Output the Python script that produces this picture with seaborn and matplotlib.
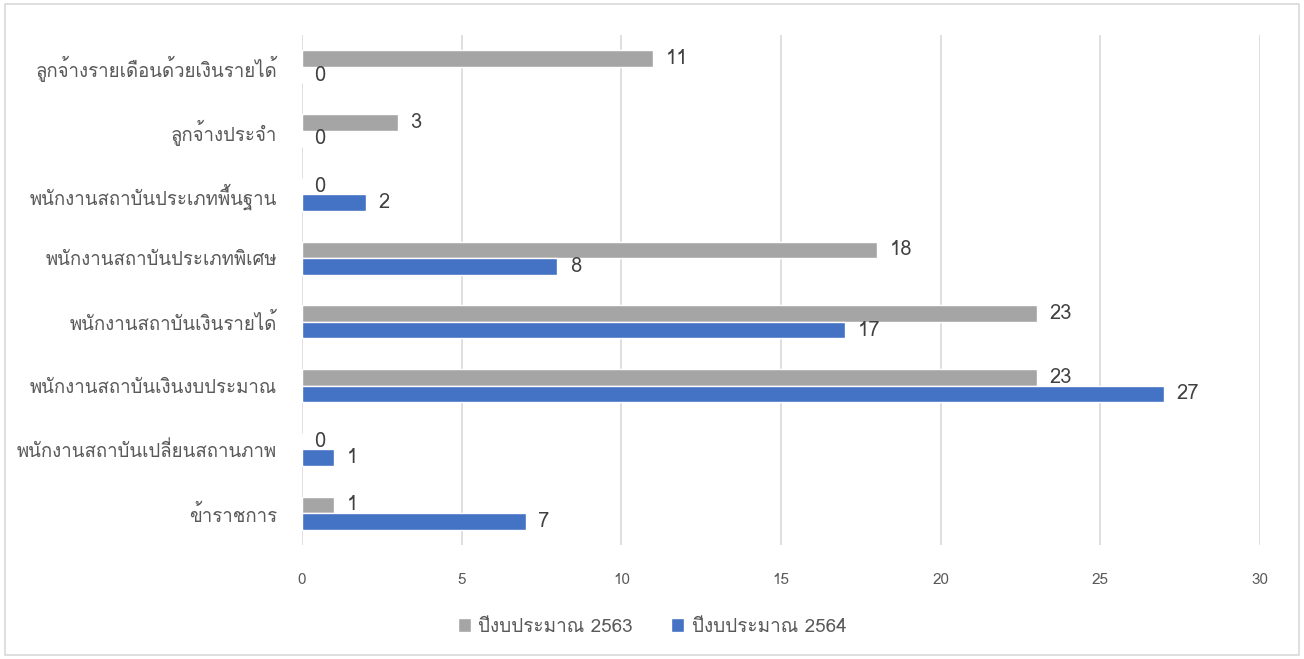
"""Staff count by type, budget years 2563 vs 2564 (horizontal grouped bars)"""

import matplotlib
matplotlib.use('Agg')
import matplotlib.pyplot as plt
import seaborn as sns
import pandas as pd
from matplotlib import font_manager
from matplotlib.ft2font import FT2Font
from matplotlib.patches import Rectangle

categories = [
    'ลูกจ้างรายเดือนด้วยเงินรายได้',
    'ลูกจ้างประจำ',
    'พนักงานสถาบันประเภทพื้นฐาน',
    'พนักงานสถาบันประเภทพิเศษ',
    'พนักงานสถาบันเงินรายได้',
    'พนักงานสถาบันเงินงบประมาณ',
    'พนักงานสถาบันเปลี่ยนสถานภาพ',
    'ข้าราชการ',
]
series_names = ['ปีงบประมาณ 2563', 'ปีงบประมาณ 2564']
values_2563 = [11, 3, 0, 18, 23, 23, 0, 1]
values_2564 = [0, 0, 2, 8, 17, 27, 1, 7]
x_ticks = [0, 5, 10, 15, 20, 25, 30]
colors = ['#a5a5a5', '#4472c4']


def find_thai_font():
    # look for any installed font that carries Thai glyphs
    for f in font_manager.fontManager.ttflist:
        try:
            if FT2Font(f.fname).get_char_index(ord('ก')):
                return f.name
        except Exception:
            pass
    return None


sns.set_style('white')
thai = find_thai_font()
plt.rcParams['font.family'] = [thai, 'DejaVu Sans'] if thai else ['DejaVu Sans']

df = pd.DataFrame({
    'category': categories * 2,
    'series': [series_names[0]] * len(categories) + [series_names[1]] * len(categories),
    'value': values_2563 + values_2564,
})

fig = plt.figure(figsize=(13.04, 6.59), dpi=100)
ax = fig.add_axes([0.2316, 0.173, 0.7347, 0.774])

sns.barplot(data=df, y='category', x='value', hue='series', order=categories,
            hue_order=series_names, palette=colors, width=0.52, orient='h',
            saturation=1, ax=ax, zorder=2)

for cont in ax.containers:
    ax.bar_label(cont, padding=9, fontsize=14.5, color='#404040')

ax.set_xlim(0, 30)
ax.set_xticks(x_ticks)
ax.set_xlabel('')
ax.set_ylabel('')
ax.grid(True, axis='x', color='#d9d9d9', linewidth=1.2, zorder=0)
ax.grid(False, axis='y')
for s in ax.spines.values():
    s.set_visible(False)
ax.tick_params(axis='x', length=0, pad=20, labelsize=11, labelcolor='#595959')
ax.tick_params(axis='y', length=0, pad=18, labelsize=13.4, labelcolor='#595959')

ax.legend(loc='center', bbox_to_anchor=(0.5, 0.049), bbox_transform=fig.transFigure,
          ncol=2, frameon=False, fontsize=13.6, labelcolor='#595959',
          handlelength=0.7, handleheight=0.7, columnspacing=2.0, handletextpad=0.4)

# thin light border round the whole chart
fig.patches.append(Rectangle((0.004, 0.006), 0.992, 0.988, transform=fig.transFigure,
                             fill=False, edgecolor='#d9d9d9', linewidth=1.2))

fig.savefig('out.png', dpi=100)
